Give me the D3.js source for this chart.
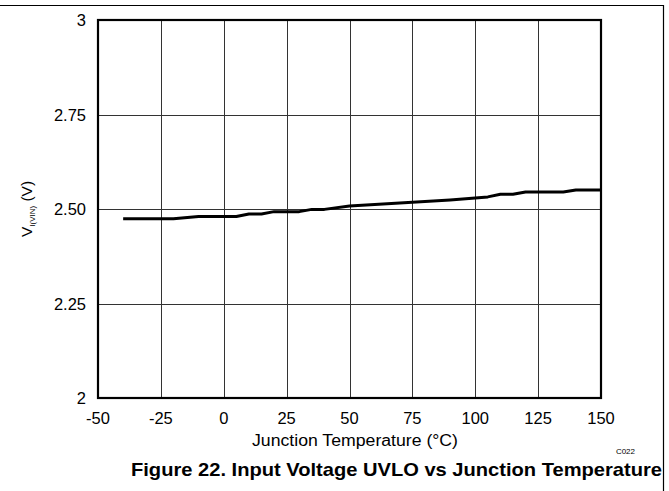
<!DOCTYPE html>
<html>
<head>
<meta charset="utf-8">
<script src="https://cdn.jsdelivr.net/npm/d3@7"></script>
<style>
    body { margin: 0; background: #fff; }
    svg text { font-family: "Liberation Sans", Arial, sans-serif; fill: #000; }
</style>
</head>
<body>
<svg id="chart" width="669" height="491"></svg>
<script>
const xTicks = [-50, -25, 0, 25, 50, 75, 100, 125, 150];
const yTicks = [2, 2.25, 2.5, 2.75, 3];
const yTickLabels = ["2", "2.25", "2.50", "2.75", "3"];

// measured UVLO threshold vs junction temperature
const temps = [-40, -20, -10, 5, 10, 15, 20, 30, 35, 40, 50, 60, 70, 80, 90, 100, 105, 110, 115, 120, 135, 140, 150];
const volts = [2.474, 2.474, 2.480, 2.480, 2.487, 2.487, 2.493, 2.493, 2.499, 2.499, 2.508, 2.512, 2.516, 2.520, 2.524, 2.529, 2.532, 2.539, 2.539, 2.545, 2.545, 2.550, 2.550];

const svg = d3.select("#chart");
const plotLeft = 98, plotRight = 601, plotTop = 20, plotBottom = 398;

const x = d3.scaleLinear().domain([-50, 150]).range([plotLeft, plotRight]);
const y = d3.scaleLinear().domain([2, 3]).range([plotBottom, plotTop]);

// outer frame
svg.append("path")
    .attr("d", "M0,5.5H663.5V491")
    .attr("fill", "none")
    .attr("stroke", "#000")
    .attr("stroke-width", 1.2);

// grid
const grid = svg.append("g");
grid.selectAll("line.vx")
    .data(xTicks.slice(1, -1))
    .join("line")
    .attr("x1", d => Math.round(x(d)) + 0.5)
    .attr("x2", d => Math.round(x(d)) + 0.5)
    .attr("y1", plotTop)
    .attr("y2", plotBottom)
    .attr("stroke", "#333")
    .attr("stroke-width", 1);
grid.selectAll("line.hy")
    .data(yTicks.slice(1, -1))
    .join("line")
    .attr("y1", d => Math.round(y(d)) + 0.5)
    .attr("y2", d => Math.round(y(d)) + 0.5)
    .attr("x1", plotLeft)
    .attr("x2", plotRight)
    .attr("stroke", "#333")
    .attr("stroke-width", 1);

// series
const line = d3.line()
    .x((d, i) => x(temps[i]))
    .y(d => y(d));
svg.append("path")
    .datum(volts)
    .attr("d", line)
    .attr("fill", "none")
    .attr("stroke", "#000")
    .attr("stroke-width", 3)
    .attr("stroke-linejoin", "round");

// plot border
svg.append("rect")
    .attr("x", plotLeft)
    .attr("y", plotTop)
    .attr("width", plotRight - plotLeft)
    .attr("height", plotBottom - plotTop)
    .attr("fill", "none")
    .attr("stroke", "#000")
    .attr("stroke-width", 2.2);

// tick labels
svg.append("g").selectAll("text")
    .data(xTicks)
    .join("text")
    .attr("x", d => x(d))
    .attr("y", 424)
    .attr("text-anchor", "middle")
    .attr("font-size", 16.5)
    .text(d => d);

svg.append("g").selectAll("text")
    .data(yTicks)
    .join("text")
    .attr("x", 86)
    .attr("y", d => y(d) + 6)
    .attr("text-anchor", "end")
    .attr("font-size", 16.5)
    .text((d, i) => yTickLabels[i]);

// axis titles
svg.append("text")
    .attr("x", 252)
    .attr("y", 446)
    .attr("font-size", 16)
    .attr("textLength", 206)
    .attr("lengthAdjust", "spacingAndGlyphs")
    .text("Junction Temperature (°C)");

const yTitle = svg.append("text")
    .attr("transform", "translate(32,209) rotate(-90)")
    .attr("text-anchor", "middle")
    .attr("font-size", 15.5);
yTitle.append("tspan").text("V");
yTitle.append("tspan").attr("font-size", 8).attr("dy", 3).text("I(VIN)");
yTitle.append("tspan").attr("dy", -3).text(" (V)");

svg.append("text")
    .attr("x", 635)
    .attr("y", 454)
    .attr("text-anchor", "end")
    .attr("font-size", 8)
    .text("C022");

svg.append("text")
    .attr("x", 131)
    .attr("y", 476)
    .attr("font-size", 19)
    .attr("font-weight", "bold")
    .attr("textLength", 531)
    .attr("lengthAdjust", "spacingAndGlyphs")
    .text("Figure 22. Input Voltage UVLO vs Junction Temperature");
</script>
</body>
</html>
